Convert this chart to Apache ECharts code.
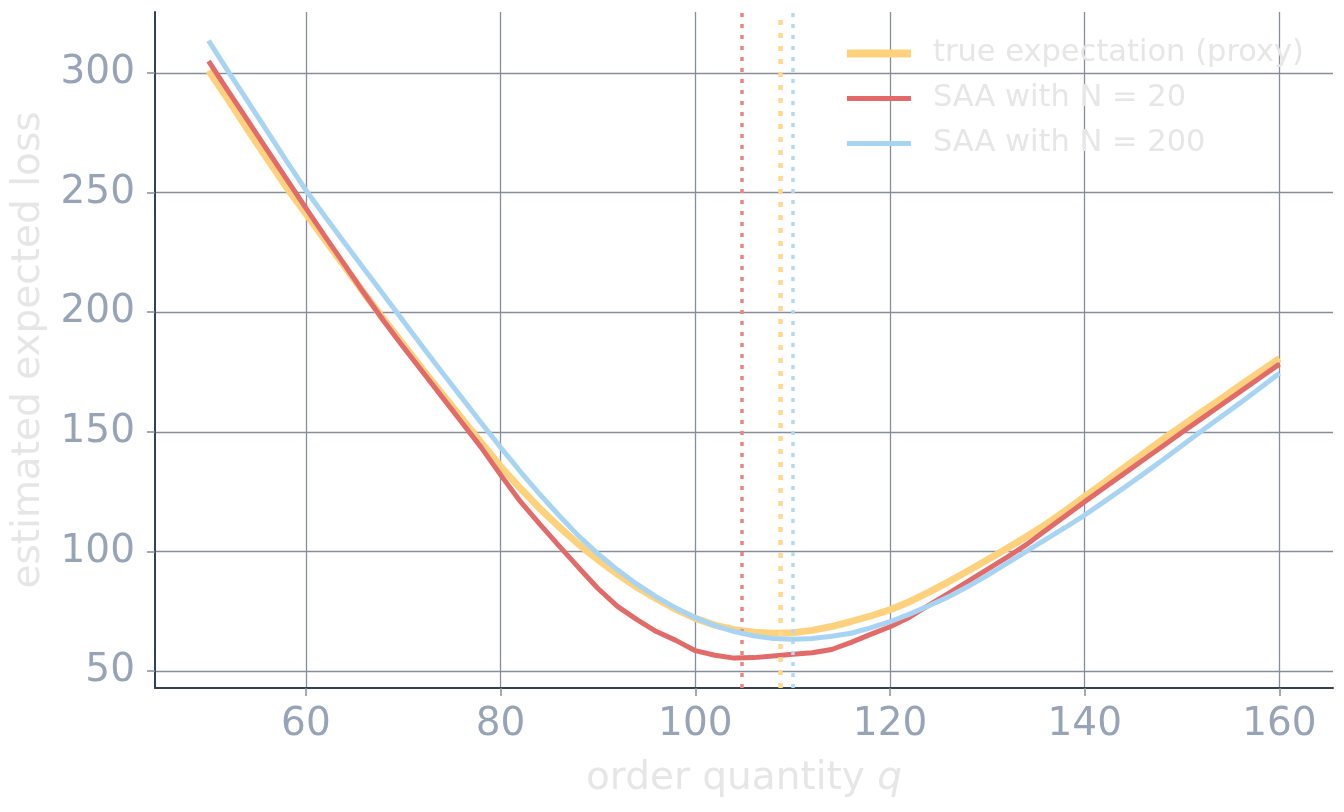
<!DOCTYPE html>
<html>
<head>
<meta charset="utf-8">
<title>SAA vs true expectation</title>
<script src="https://cdn.jsdelivr.net/npm/echarts@6/dist/echarts.min.js"></script>
<style>
  html, body { margin: 0; padding: 0; background: #ffffff; }
  #chart { width: 1344px; height: 812px; }
</style>
</head>
<body>
<div id="chart"></div>
<script>
// order quantities the losses were evaluated at
const qValues = [
  50, 52, 54, 56, 58, 60, 62, 64, 66, 68, 70, 72, 74, 76, 78, 80, 82, 84, 86, 88,
  90, 92, 94, 96, 98, 100, 102, 104, 106, 108, 110, 112, 114, 116, 118, 120, 122, 124, 126, 128,
  130, 132, 134, 136, 138, 140, 142, 144, 146, 148, 150, 152, 154, 156, 158, 160
];

// true expectation (proxy)
const trueLoss = [
  301, 289, 276.5, 264.3, 252.3, 241.2, 230, 219, 207.8, 197, 186.5, 176, 165.8, 155.7, 145.5, 135.5, 126.5, 118, 110.3, 103,
  96.5, 90.5, 85, 80.2, 75.8, 72, 69.2, 67.3, 66.2, 65.8, 66, 67, 68.6, 70.7, 73, 75.6, 79, 83, 87.3, 91.8,
  96.5, 101.2, 106.1, 111.3, 117, 122.9, 128.8, 134.8, 140.8, 146.8, 152.5, 158.2, 163.8, 169.5, 175.1, 180.7
];

// SAA with N = 20
const saa20Loss = [
  305, 292.5, 280.3, 268, 255.7, 243.5, 231.5, 219.7, 207.8, 196.3, 185.5, 175, 164.5, 154, 143.5, 132, 121, 111.5, 102.3, 93.3,
  84.5, 77, 71.5, 66.5, 62.8, 58.5, 56.6, 55.4, 55.6, 56.3, 57, 57.6, 59, 62, 65.3, 68.5, 72.5, 77.5, 82.5, 87.5,
  92.5, 97.5, 102.8, 108.8, 114.8, 120.8, 126.6, 132.4, 138.2, 144, 149.8, 155.5, 161.2, 166.9, 172.6, 178.3
];

// SAA with N = 200
const saa200Loss = [
  313.5, 300.8, 288.3, 275.8, 263.3, 251, 239.8, 228.8, 218, 207.2, 196.3, 185.5, 174.8, 164.3, 153.8, 143.5, 133.5, 124, 115, 106.5,
  99, 92.3, 86.3, 81, 76.3, 72.3, 69, 66.5, 64.7, 63.6, 63.3, 63.6, 64.5, 65.8, 68, 70.6, 73.8, 77.3, 81, 85.3,
  90, 95, 100, 105, 110, 115.2, 120.8, 126.5, 132.3, 138.2, 144.3, 150.3, 156.3, 162.2, 168.3, 174.5
];

// argmin of each curve (dotted verticals)
const optTrue = 108.7;
const optN20 = 104.8;
const optN200 = 110;

const xTicks = [60, 80, 100, 120, 140, 160];
const yTicks = [50, 100, 150, 200, 250, 300];

const seriesNames = ['true expectation (proxy)', 'SAA with N = 20', 'SAA with N = 200'];
const seriesColors = ['#fed17d', '#e26b69', '#a8d4f4'];
const seriesWidths = [7, 5, 5];
const legendWidths = [8, 5, 5];
const seriesValues = [trueLoss, saa20Loss, saa200Loss];
const seriesOpt = [optTrue, optN20, optN200];
const markColors = ['#fed98f', '#e98684', '#b3daf5'];
const markWidths = [4.5, 3.5, 3.5];
const markDash = [[5, 8], [4, 7], [4, 7]];

const FONT = 'DejaVu Sans';
const tickColor = '#97a3b6';
const gridColor = '#868e9c';
const axisColor = '#334155';
const titleColor = '#e6e6e6';

const chart = echarts.init(document.getElementById('chart'), null, { renderer: 'canvas' });

const series = seriesNames.map((name, i) => ({
  name: name,
  type: 'line',
  data: qValues.map((q, k) => [q, seriesValues[i][k]]),
  showSymbol: false,
  symbol: 'none',
  smooth: false,
  lineStyle: { color: seriesColors[i], width: seriesWidths[i] },
  itemStyle: { color: seriesColors[i] },
  z: 3 + i,
  markLine: {
    silent: true,
    symbol: ['none', 'none'],
    label: { show: false },
    lineStyle: { color: markColors[i], width: markWidths[i], type: markDash[i] },
    data: [{ xAxis: seriesOpt[i] }]
  }
}));

chart.setOption({
  animation: false,
  backgroundColor: '#ffffff',
  textStyle: { fontFamily: FONT },
  grid: { left: 155, right: 11, top: 12, bottom: 124, containLabel: false, outerBoundsMode: 'none' },
  legend: {
    data: seriesNames.map((name, i) => ({
      name: name,
      lineStyle: { width: legendWidths[i], color: seriesColors[i] },
      itemStyle: { opacity: 0 }
    })),
    orient: 'vertical',
    right: 35,
    top: 33,
    itemWidth: 64,
    itemHeight: 14,
    itemGap: 14,
    itemStyle: { opacity: 0 },
    textStyle: { color: titleColor, fontSize: 30.5, fontFamily: FONT, padding: [0, 0, 0, 17] }
  },
  xAxis: {
    type: 'value',
    min: 44.5,
    max: 165.5,
    name: 'order quantity {i|q}',
    nameLocation: 'middle',
    nameGap: 71,
    nameMoveOverlap: false,
    nameTextStyle: {
      color: titleColor, fontSize: 39, fontFamily: FONT,
      rich: { i: { color: titleColor, fontSize: 39, fontFamily: FONT, fontStyle: 'italic' } }
    },
    axisLine: { show: true, onZero: false, lineStyle: { color: axisColor, width: 2 } },
    axisTick: { show: true, length: 8, lineStyle: { color: gridColor, width: 1.5 }, customValues: xTicks },
    axisLabel: { color: tickColor, fontSize: 39, fontFamily: FONT, margin: 17, customValues: xTicks },
    splitLine: { show: true, lineStyle: { color: gridColor, width: 1.3 } }
  },
  yAxis: {
    type: 'value',
    min: 42.9,
    max: 325.5,
    name: 'estimated expected loss',
    nameLocation: 'middle',
    nameGap: 107,
    nameMoveOverlap: false,
    nameTextStyle: { color: titleColor, fontSize: 39, fontFamily: FONT },
    axisLine: { show: true, onZero: false, lineStyle: { color: axisColor, width: 2 } },
    axisTick: { show: true, length: 8, lineStyle: { color: gridColor, width: 1.5 }, customValues: yTicks },
    axisLabel: { color: tickColor, fontSize: 39, fontFamily: FONT, margin: 20, customValues: yTicks },
    splitLine: { show: true, lineStyle: { color: gridColor, width: 1.3 } }
  },
  series: series
});
</script>
</body>
</html>
